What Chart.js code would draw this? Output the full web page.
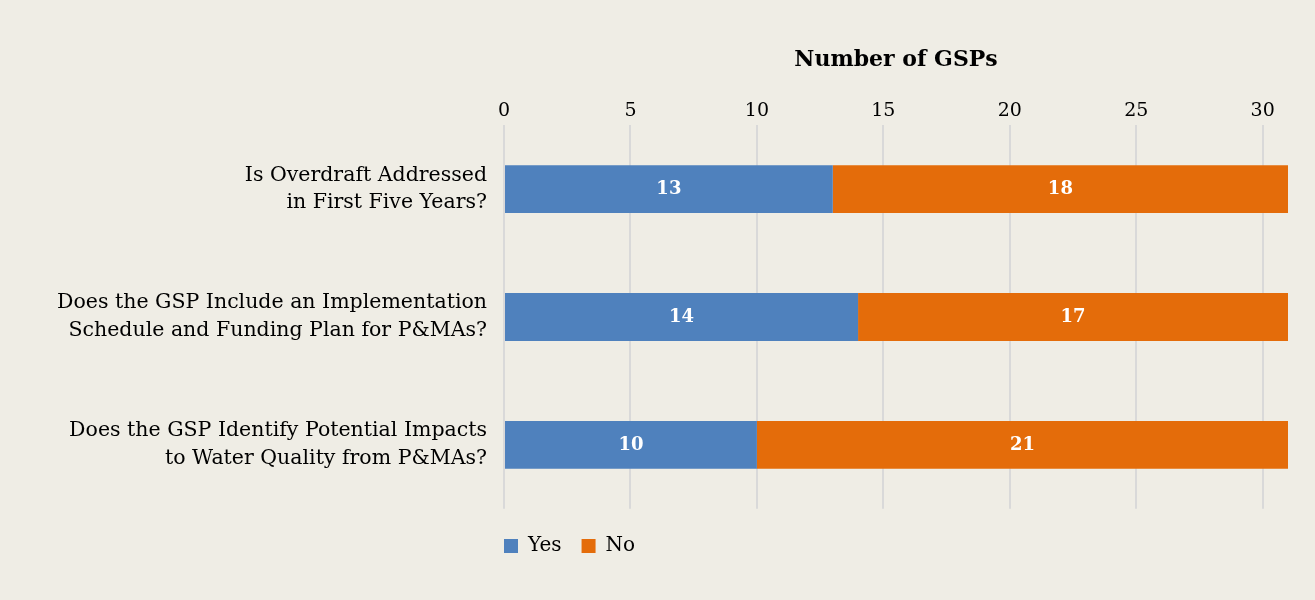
<!DOCTYPE html>
<html>
<head>
<meta charset="utf-8">
<script src="https://cdn.jsdelivr.net/npm/chart.js@4"></script>
<style>
  html, body { margin: 0; padding: 0; background: #efede5; }
  #wrap { width: 1315px; height: 600px; }
</style>
</head>
<body>
<div id="wrap"><canvas id="gspChart" width="1315" height="600"></canvas></div>
<script>
// Data
const questions = [
    ['Is Overdraft Addressed', 'in First Five Years?'],
    ['Does the GSP Include an Implementation', 'Schedule and Funding Plan for P&MAs?'],
    ['Does the GSP Identify Potential Impacts', 'to Water Quality from P&MAs?']
];
const yesCounts = [13, 14, 10];
const noCounts = [18, 17, 21];
const tickValues = [0, 5, 10, 15, 20, 25, 30];
const axisMax = 31;

const serif = "'DejaVu Serif', serif";

// draws the value in the middle of each bar segment
const barValues = {
    id: 'barValues',
    afterDatasetsDraw(chart) {
        const ctx = chart.ctx;
        ctx.save();
        ctx.fillStyle = '#ffffff';
        ctx.font = "bold 18px " + serif;
        ctx.textAlign = 'center';
        ctx.textBaseline = 'middle';
        chart.data.datasets.forEach((ds, i) => {
            chart.getDatasetMeta(i).data.forEach((bar, j) => {
                const p = bar.getProps(['x', 'y', 'base'], true);
                ctx.fillText(ds.data[j], (p.x + p.base) / 2, p.y);
            });
        });
        ctx.restore();
    }
};

const ctx = document.getElementById('gspChart').getContext('2d');
const gspChart = new Chart(ctx, {
    type: 'bar',
    data: {
        labels: questions,
        datasets: [{
            label: 'Yes',
            data: yesCounts,
            backgroundColor: '#4f81bd'
        }, {
            label: 'No',
            data: noCounts,
            backgroundColor: '#e46c0a'
        }]
    },
    options: {
        indexAxis: 'y',
        responsive: false,
        animation: false,
        layout: {
            padding: { top: 47, right: 27, bottom: 34, left: 0 }
        },
        datasets: {
            bar: { barPercentage: 0.375, categoryPercentage: 1 }
        },
        scales: {
            x: {
                position: 'top',
                stacked: true,
                min: 0,
                max: axisMax,
                afterBuildTicks: scale => {
                    scale.ticks = tickValues.map(v => ({ value: v }));
                },
                ticks: {
                    autoSkip: false,
                    color: '#000000',
                    padding: 3,
                    font: { family: serif, size: 19 }
                },
                grid: { color: '#d9d9d9', lineWidth: 2, drawTicks: false },
                border: { display: false },
                title: {
                    display: true,
                    text: 'Number of GSPs',
                    color: '#000000',
                    font: { family: serif, size: 22, weight: 'bold' },
                    padding: { top: 0, bottom: 23 }
                }
            },
            y: {
                stacked: true,
                afterFit: scale => { scale.width = 504; },
                ticks: {
                    color: '#000000',
                    padding: 17,
                    font: { family: serif, size: 20.5, lineHeight: 1.35 }
                },
                grid: { display: false, drawTicks: false },
                border: { display: false }
            }
        },
        plugins: {
            legend: {
                position: 'bottom',
                align: 'start',
                fullSize: false,
                title: {
                    display: true,
                    text: ' ',
                    font: { size: 1 },
                    padding: { top: 0, bottom: 26 }
                },
                labels: {
                    boxWidth: 14,
                    boxHeight: 14,
                    color: '#000000',
                    padding: 0,
                    font: { family: serif, size: 20 },
                    generateLabels: chart => {
                        const items = Chart.defaults.plugins.legend.labels.generateLabels(chart);
                        items.forEach(it => { it.text = it.text + '\u2002\u2002'; });
                        return items;
                    }
                }
            },
            tooltip: { enabled: false }
        }
    },
    plugins: [barValues]
});
</script>
</body>
</html>
